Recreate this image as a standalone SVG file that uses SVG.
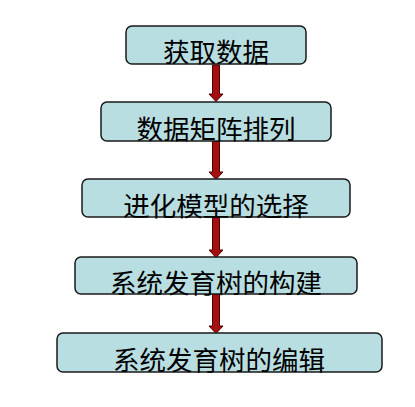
<svg xmlns="http://www.w3.org/2000/svg" width="415" height="407" viewBox="0 0 415 407">
<style>
.box{fill:#B9DEE1;stroke:#1a1a1a;stroke-width:1.5}
.lbl{font-family:"Noto Sans CJK SC","Liberation Sans",sans-serif;font-size:26.5px;fill:#000;text-anchor:middle}
.arr{fill:#A50F0F;stroke:#4a0000;stroke-width:1}
</style>
<rect width="415" height="407" fill="#fff"/>
<g id="connectors">
<path class="arr" d="M212.5,65 H219.5 V94 H223 L216,101.5 L209,94 H212.5 Z"/>
<path class="arr" d="M212.5,141 H219.5 V172 H223 L216,179.5 L209,172 H212.5 Z"/>
<path class="arr" d="M212.5,217 H219.5 V250 H223 L216,257.5 L209,250 H212.5 Z"/>
<path class="arr" d="M212.5,294 H219.5 V326 H223 L216,333.5 L209,326 H212.5 Z"/>
</g>
<g id="n1"><rect class="box" x="126" y="26" width="180" height="38" rx="6"/><text class="lbl" x="216" y="62">获取数据</text></g>
<g id="n2"><rect class="box" x="101" y="102" width="230" height="39" rx="6"/><text class="lbl" x="216" y="139">数据矩阵排列</text></g>
<g id="n3"><rect class="box" x="82" y="179" width="268" height="38" rx="6"/><text class="lbl" x="216" y="216">进化模型的选择</text></g>
<g id="n4"><rect class="box" x="75" y="257" width="282" height="37" rx="6"/><text class="lbl" x="216" y="293">系统发育树的构建</text></g>
<g id="n5"><rect class="box" x="57" y="333" width="325" height="39" rx="6"/><text class="lbl" x="219" y="370">系统发育树的编辑</text></g>
</svg>
